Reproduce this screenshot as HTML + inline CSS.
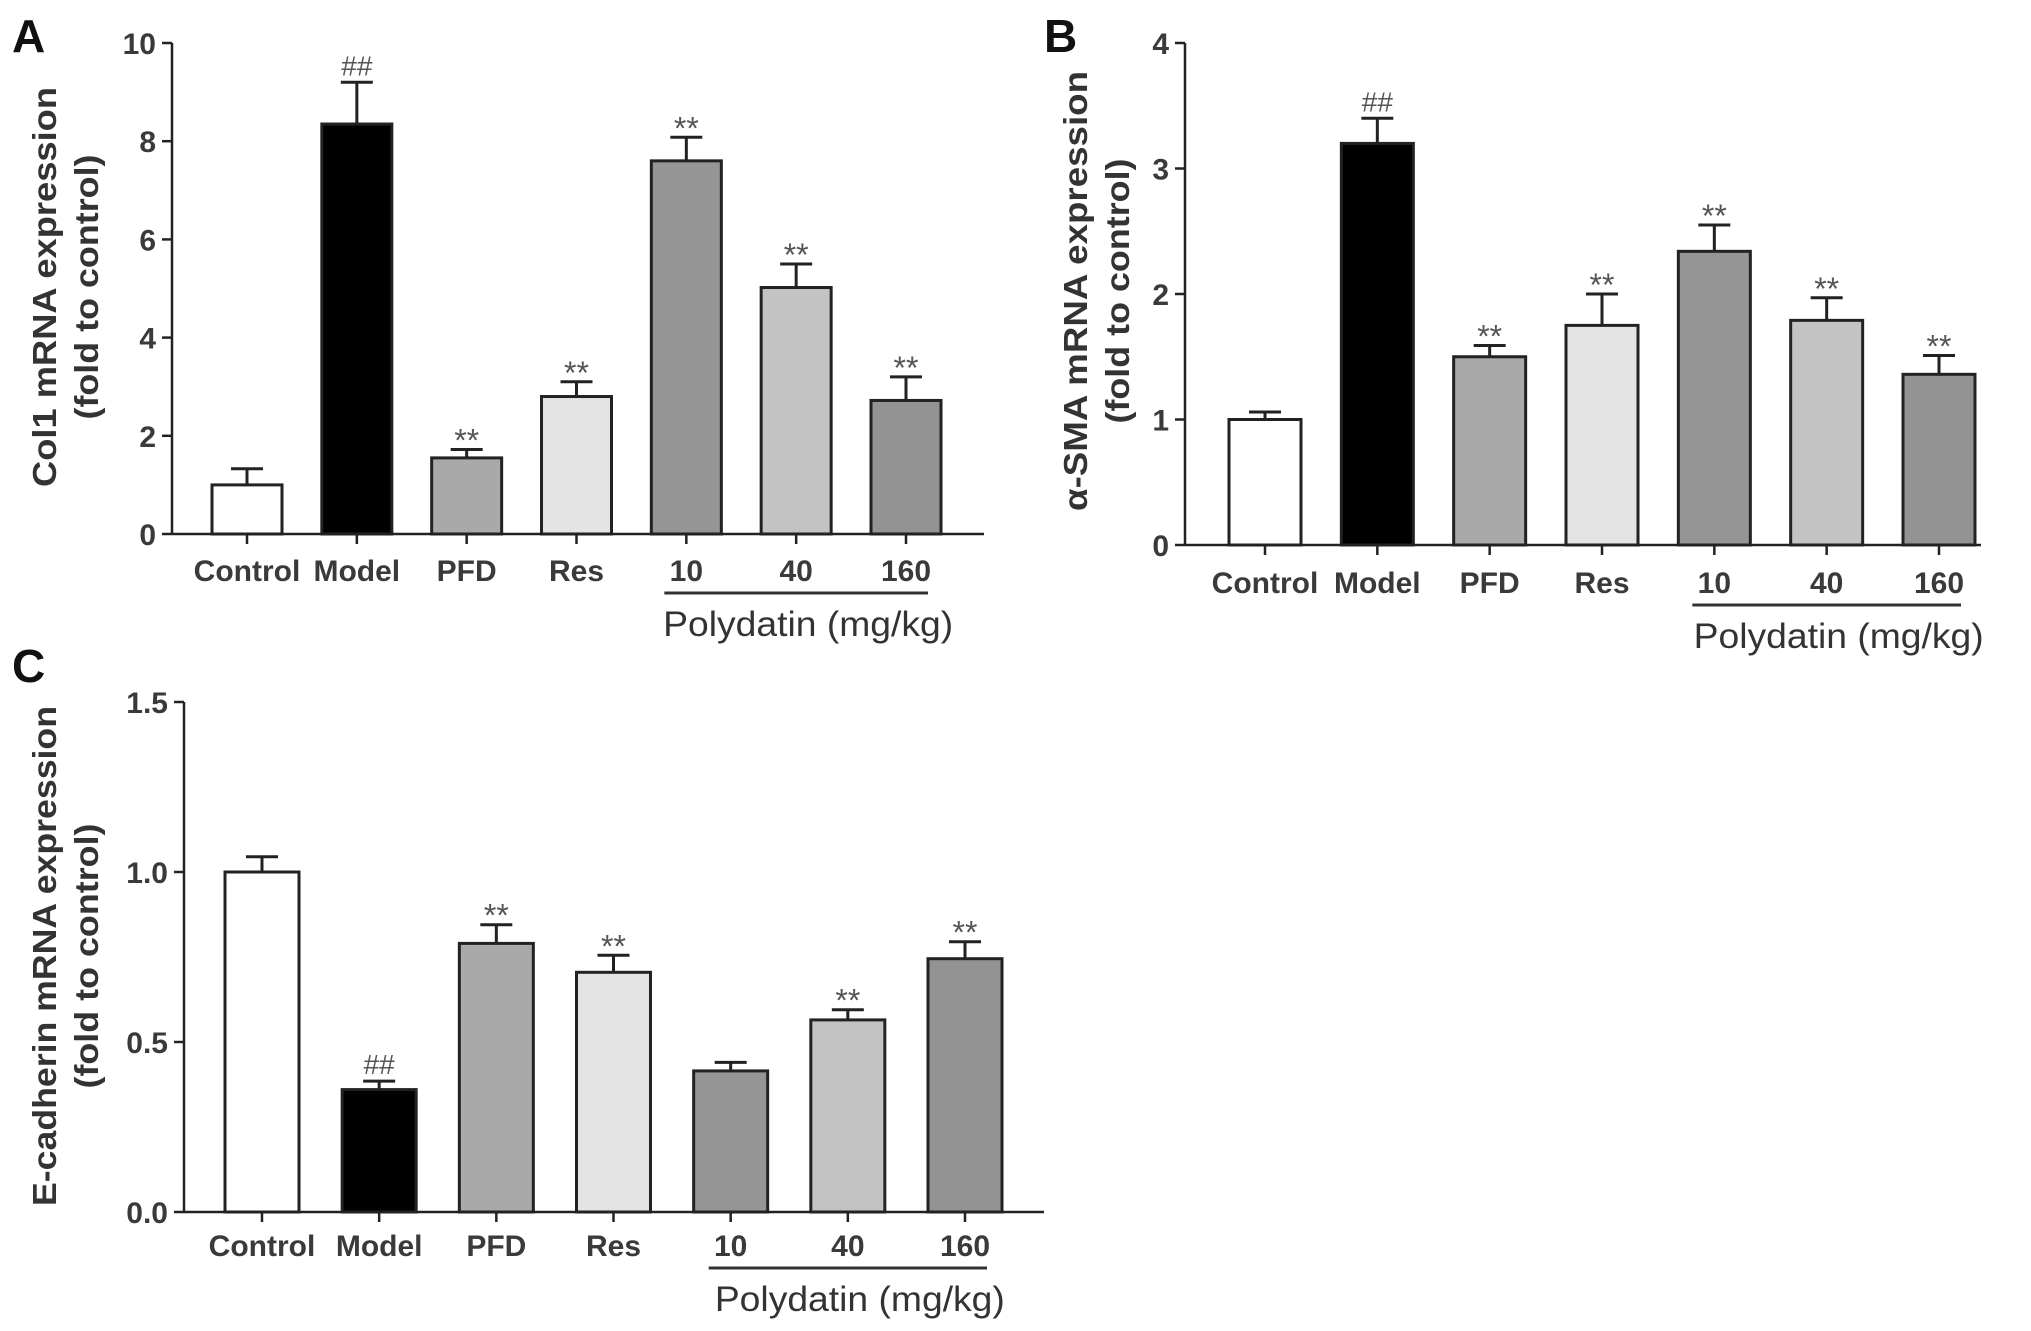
<!DOCTYPE html>
<html><head><meta charset="utf-8"><style>
html,body{margin:0;padding:0;background:#fff;}
svg{display:block;font-family:"Liberation Sans",sans-serif;}
</style></head><body>
<svg id="fig" width="2031" height="1331" viewBox="0 0 2031 1331" xmlns="http://www.w3.org/2000/svg">
<text x="12" y="52" font-size="46" font-weight="bold" fill="#111">A</text>
<text x="1044" y="52" font-size="46" font-weight="bold" fill="#111">B</text>
<text x="12" y="682" font-size="46" font-weight="bold" fill="#111">C</text>
</svg>
<script>
const categories = ["Control","Model","PFD","Res","10","40","160"];
const colors = ["#ffffff","#000000","#a9a9a9","#e4e4e4","#959595","#c3c3c3","#939393"];
const col1Values = [1.0, 8.35, 1.55, 2.8, 7.6, 5.02, 2.72];
const col1Errors = [0.33, 0.85, 0.17, 0.3, 0.48, 0.48, 0.48];
const col1Marks = ["", "##", "**", "**", "**", "**", "**"];
const col1Ticks = [0, 2, 4, 6, 8, 10];
const smaValues = [1.0, 3.2, 1.5, 1.75, 2.34, 1.79, 1.36];
const smaErrors = [0.06, 0.2, 0.09, 0.25, 0.21, 0.18, 0.15];
const smaMarks = ["", "##", "**", "**", "**", "**", "**"];
const smaTicks = [0, 1, 2, 3, 4];
const ecadValues = [1.0, 0.36, 0.79, 0.705, 0.415, 0.565, 0.745];
const ecadErrors = [0.045, 0.025, 0.055, 0.05, 0.025, 0.03, 0.05];
const ecadMarks = ["", "##", "**", "**", "", "**", "**"];
const ecadTicks = [0, 0.5, 1.0, 1.5];
const ecadTickLabels = ["0.0", "0.5", "1.0", "1.5"];

const NS = "http://www.w3.org/2000/svg";
const svg = document.getElementById("fig");
function mk(tag, attrs, parent){
  const e = document.createElementNS(NS, tag);
  for (const k in attrs) e.setAttribute(k, attrs[k]);
  (parent||svg).appendChild(e);
  return e;
}
function panel(p){
  const g = mk("g", {});
  
  
  const y = v => p.y0 - (v - p.min) / (p.max - p.min) * (p.y0 - p.yTop);
  const xStep = (p.lastX - p.firstX) / (categories.length - 1);
  const x = i => p.firstX + i * xStep;
  p.values.forEach((v, i) => {
    const cx = x(i), top = y(v), et = y(v + p.errors[i]);
    const eb = mk("line", {x1:cx, x2:cx, y1:top, y2:et, stroke:"#222", "stroke-width":3}, g);
    
    
    const cap = mk("line", {x1:cx-16, x2:cx+16, y1:et, y2:et, stroke:"#222", "stroke-width":3}, g);
    
    
    const r = mk("rect", {x:cx-p.bw/2, y:top, width:p.bw, height:p.y0-top, fill:colors[i], stroke:"#222", "stroke-width":3}, g);
    
    
    if (p.marks[i]) {
      const t = mk("text", {x:cx, y:et-7, "font-size":p.marks[i]=="**"?32:28, fill:"#555", "text-anchor":"middle"}, g);
      if (p.marks[i]=="**") t.setAttribute("y", et+2);
      t.textContent = p.marks[i];
      
      
    }
    const tk = mk("line", {x1:cx, x2:cx, y1:p.y0, y2:p.y0+10, stroke:"#222", "stroke-width":2.5}, g);
    
    
    const lb = mk("text", {x:cx, y:p.labY, "font-size":30, "font-weight":"bold", fill:"#3a3a3a", "text-anchor":"middle"}, g);
    lb.textContent = categories[i];
    
    
  });
  const ya = mk("line", {x1:p.ax, x2:p.ax, y1:p.yTop, y2:p.y0, stroke:"#222", "stroke-width":2.5}, g);
  
  
  const xa = mk("line", {x1:p.ax, x2:p.axEnd, y1:p.y0, y2:p.y0, stroke:"#222", "stroke-width":2.5}, g);
  
  
  p.ticks.forEach((t, i) => {
    const ty = y(t);
    const l = mk("line", {x1:p.ax-10, x2:p.ax, y1:ty, y2:ty, stroke:"#222", "stroke-width":2.5}, g);
    
    
    const tl = mk("text", {x:p.ax-16, y:ty+11, "font-size":30, "font-weight":"bold", fill:"#3a3a3a", "text-anchor":"end"}, g);
    tl.textContent = p.tickLabels ? p.tickLabels[i] : String(t);
    
    
  });
  const tt = mk("text", {transform:"translate(" + p.titleX + "," + p.titleY + ") rotate(-90)", "font-size":33, "font-weight":"bold", fill:"#333", "text-anchor":"middle"}, g);
  const s1 = mk("tspan", {x:0, y:0, textLength:p.titleLen, lengthAdjust:"spacingAndGlyphs"}, tt);
  s1.textContent = p.title;
  const s2 = mk("tspan", {x:0, y:42, textLength:265, lengthAdjust:"spacingAndGlyphs"}, tt);
  s2.textContent = "(fold to control)";
  
  
  const ul = mk("line", {x1:x(4)-22, x2:x(6)+22, y1:p.labY+12, y2:p.labY+12, stroke:"#333", "stroke-width":3}, g);
  
  
  const pt = mk("text", {x:(x(4)+x(6))/2 + 12, y:p.labY+55, "font-size":35, fill:"#333", "text-anchor":"middle", textLength:290, lengthAdjust:"spacingAndGlyphs"}, g);
  pt.textContent = "Polydatin (mg/kg)";
  
  
}
panel({name:"panel-a-col1", values:col1Values, errors:col1Errors, marks:col1Marks, ticks:col1Ticks,
  min:0, max:10, ax:172, axEnd:984, yTop:43, y0:534, firstX:247, lastX:906, bw:70, labY:581,
  title:"Col1 mRNA expression", titleX:56, titleY:287, titleLen:400});
panel({name:"panel-b-sma", values:smaValues, errors:smaErrors, marks:smaMarks, ticks:smaTicks,
  min:0, max:4, ax:1185, axEnd:1981, yTop:43, y0:545, firstX:1265, lastX:1939, bw:72, labY:593,
  title:"α-SMA mRNA expression", titleX:1087, titleY:291, titleLen:440});
panel({name:"panel-c-ecadherin", values:ecadValues, errors:ecadErrors, marks:ecadMarks, ticks:ecadTicks, tickLabels:ecadTickLabels,
  min:0, max:1.5, ax:184, axEnd:1044, yTop:702, y0:1212, firstX:262, lastX:965, bw:74, labY:1256,
  title:"E-cadherin mRNA expression", titleX:56, titleY:956, titleLen:500});
</script>
</body></html>
